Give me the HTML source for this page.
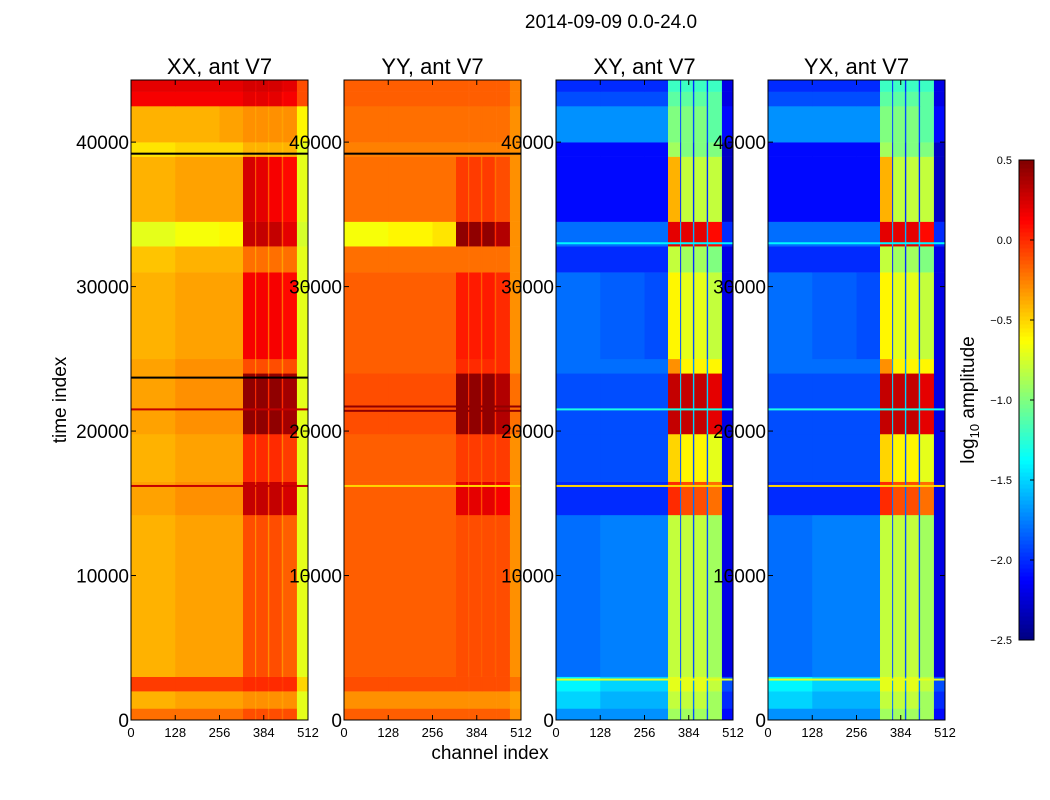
<!DOCTYPE html>
<html><head><meta charset="utf-8">
<style>
body{margin:0;background:#fff;}
svg{display:block;font-family:"Liberation Sans","DejaVu Sans",sans-serif;}
</style></head>
<body>
<svg id="chart" width="1050" height="800" viewBox="0 0 1050 800" xmlns="http://www.w3.org/2000/svg">
<rect width="1050" height="800" fill="#fff"/>
<text x="611" y="28" font-size="19" text-anchor="middle">2014-09-09 0.0-24.0</text>
<text transform="translate(66,400) rotate(-90)" font-size="19" text-anchor="middle">time index</text>
<text x="490" y="759" font-size="19" text-anchor="middle">channel index</text>
<text transform="translate(974,400) rotate(-90)" font-size="19" text-anchor="middle">log<tspan font-size="13" dy="5">10</tspan><tspan dy="-5"> amplitude</tspan></text>
<g id="panels"></g>
<g id="cbar"></g>
</svg>
<script>
const timeEdges=[0,800,2000,3000,14200,16500,19800,24000,25000,31000,32800,34500,39000,40000,42500,43500,44300];
const chanEdges=[0,128,256,324,359,362,396,400,436,440,480,512];
const panelTitles=["XX, ant V7","YY, ant V7","XY, ant V7","YX, ant V7"];
const xTicks=[0,128,256,384,512];
const yTicks=[0,10000,20000,30000,40000];
const cbarTicks=[0.5,0.0,-0.5,-1.0,-1.5,-2.0,-2.5];
const valsXX=[
[-0.2,-0.2,-0.2,-0.1,-0.2,-0.1,-0.2,-0.1,-0.2,-0.1,-0.7],
[-0.4,-0.35,-0.35,-0.3,-0.35,-0.3,-0.35,-0.3,-0.35,-0.3,-0.7],
[-0.05,-0.05,-0.05,0.0,-0.05,0.0,-0.05,0.0,-0.05,0.0,-0.5],
[-0.4,-0.35,-0.35,-0.1,-0.3,-0.1,-0.3,-0.1,-0.3,-0.15,-0.7],
[-0.35,-0.3,-0.3,0.3,-0.1,0.3,-0.1,0.3,-0.1,0.25,-0.7],
[-0.4,-0.35,-0.35,0.0,-0.25,0.0,-0.25,0.0,-0.25,-0.05,-0.7],
[-0.35,-0.3,-0.3,0.45,0.0,0.45,0.0,0.45,0.0,0.4,-0.7],
[-0.35,-0.3,-0.3,-0.1,-0.3,-0.1,-0.3,-0.1,-0.3,-0.1,-0.7],
[-0.4,-0.35,-0.35,0.15,-0.2,0.15,-0.2,0.15,-0.2,0.1,-0.7],
[-0.45,-0.4,-0.4,-0.2,-0.35,-0.2,-0.35,-0.2,-0.35,-0.2,-0.7],
[-0.7,-0.65,-0.6,0.3,-0.1,0.3,-0.1,0.3,-0.1,0.2,-0.75],
[-0.4,-0.35,-0.35,0.25,-0.15,0.2,-0.15,0.15,-0.15,0.1,-0.7],
[-0.55,-0.5,-0.5,-0.4,-0.45,-0.4,-0.45,-0.4,-0.45,-0.4,-0.7],
[-0.4,-0.4,-0.35,-0.3,-0.35,-0.3,-0.35,-0.3,-0.35,-0.3,-0.6],
[0.15,0.15,0.15,0.2,0.1,0.2,0.1,0.2,0.1,0.15,-0.1],
[0.2,0.2,0.2,0.25,0.2,0.25,0.2,0.25,0.2,0.2,-0.1]];
const valsYY=[
[-0.15,-0.15,-0.15,-0.15,-0.15,-0.15,-0.15,-0.15,-0.15,-0.15,-0.3],
[-0.3,-0.3,-0.3,-0.3,-0.3,-0.3,-0.3,-0.3,-0.3,-0.3,-0.35],
[-0.1,-0.1,-0.1,-0.1,-0.1,-0.1,-0.1,-0.1,-0.1,-0.1,-0.2],
[-0.15,-0.15,-0.15,-0.1,-0.15,-0.1,-0.15,-0.1,-0.15,-0.1,-0.3],
[-0.15,-0.15,-0.15,0.2,-0.1,0.2,-0.1,0.2,-0.1,0.15,-0.3],
[-0.15,-0.15,-0.15,-0.05,-0.15,-0.05,-0.15,-0.05,-0.15,-0.05,-0.3],
[-0.1,-0.1,-0.1,0.45,0.0,0.45,0.0,0.45,0.0,0.35,-0.2],
[-0.15,-0.15,-0.15,0.0,-0.15,0.0,-0.15,0.0,-0.15,0.0,-0.3],
[-0.15,-0.15,-0.15,0.05,-0.15,0.05,-0.15,0.05,-0.15,0.0,-0.3],
[-0.2,-0.2,-0.2,-0.2,-0.2,-0.2,-0.2,-0.2,-0.2,-0.2,-0.3],
[-0.65,-0.6,-0.55,0.45,0.0,0.45,0.0,0.45,0.0,0.35,-0.3],
[-0.2,-0.2,-0.2,-0.05,-0.2,-0.05,-0.2,-0.05,-0.2,-0.1,-0.3],
[-0.25,-0.25,-0.25,-0.25,-0.25,-0.25,-0.25,-0.25,-0.25,-0.25,-0.3],
[-0.2,-0.2,-0.2,-0.2,-0.2,-0.2,-0.2,-0.2,-0.2,-0.2,-0.3],
[-0.15,-0.15,-0.15,-0.15,-0.15,-0.15,-0.15,-0.15,-0.15,-0.15,-0.25],
[-0.15,-0.15,-0.15,-0.15,-0.15,-0.15,-0.15,-0.15,-0.15,-0.15,-0.25]];
const valsXY=[
[-1.7,-1.7,-1.7,-0.9,-1.9,-0.9,-1.9,-0.9,-1.9,-0.9,-2.1],
[-1.5,-1.6,-1.6,-0.8,-1.8,-0.8,-1.8,-0.8,-1.8,-0.9,-2.0],
[-1.4,-1.5,-1.5,-0.7,-1.7,-0.7,-1.7,-0.7,-1.7,-0.8,-1.9],
[-1.8,-1.75,-1.75,-0.8,-1.9,-0.8,-1.9,-0.8,-1.9,-0.9,-2.2],
[-2.0,-2.0,-2.0,0.0,-1.8,-0.1,-1.8,-0.1,-1.8,-0.2,-2.2],
[-1.9,-1.9,-1.9,-0.5,-1.9,-0.6,-1.9,-0.6,-1.9,-0.7,-2.2],
[-1.9,-1.9,-1.9,0.3,-1.5,0.3,-1.5,0.3,-1.5,0.2,-2.2],
[-1.8,-1.8,-1.8,-0.3,-1.7,-0.6,-1.7,-0.6,-1.7,-0.6,-2.2],
[-1.8,-1.85,-1.9,-0.6,-1.9,-0.7,-1.9,-0.7,-1.9,-0.8,-2.2],
[-2.0,-2.0,-2.0,-0.8,-2.0,-0.9,-2.0,-0.9,-2.0,-1.0,-2.2],
[-1.8,-1.8,-1.8,0.2,-1.6,0.2,-1.6,0.2,-1.6,0.1,-2.0],
[-2.1,-2.1,-2.1,-0.4,-2.0,-0.8,-2.0,-0.8,-2.0,-0.8,-2.3],
[-2.1,-2.1,-2.1,-0.9,-2.0,-1.0,-2.0,-1.0,-2.0,-1.0,-2.3],
[-1.7,-1.7,-1.7,-1.0,-1.9,-1.0,-1.9,-1.0,-1.9,-1.1,-2.1],
[-1.9,-1.9,-1.9,-1.1,-1.9,-1.1,-1.9,-1.1,-1.9,-1.1,-2.2],
[-2.0,-2.0,-2.0,-1.2,-2.0,-1.2,-2.0,-1.2,-2.0,-1.2,-2.2]];
const valsYX=[
[-1.7,-1.7,-1.7,-0.9,-1.9,-0.9,-1.9,-0.9,-1.9,-0.9,-2.1],
[-1.5,-1.6,-1.6,-0.8,-1.8,-0.8,-1.8,-0.8,-1.8,-0.9,-2.0],
[-1.4,-1.5,-1.5,-0.7,-1.7,-0.7,-1.7,-0.7,-1.7,-0.8,-1.9],
[-1.8,-1.75,-1.75,-0.8,-1.9,-0.8,-1.9,-0.8,-1.9,-0.9,-2.2],
[-2.0,-2.0,-2.0,0.0,-1.8,-0.1,-1.8,-0.1,-1.8,-0.2,-2.2],
[-1.9,-1.9,-1.9,-0.5,-1.9,-0.6,-1.9,-0.6,-1.9,-0.7,-2.2],
[-1.9,-1.9,-1.9,0.3,-1.5,0.3,-1.5,0.3,-1.5,0.2,-2.2],
[-1.8,-1.8,-1.8,-0.3,-1.7,-0.6,-1.7,-0.6,-1.7,-0.6,-2.2],
[-1.8,-1.85,-1.9,-0.6,-1.9,-0.7,-1.9,-0.7,-1.9,-0.8,-2.2],
[-2.0,-2.0,-2.0,-0.8,-2.0,-0.9,-2.0,-0.9,-2.0,-1.0,-2.2],
[-1.8,-1.8,-1.8,0.2,-1.6,0.2,-1.6,0.2,-1.6,0.1,-2.0],
[-2.1,-2.1,-2.1,-0.4,-2.0,-0.8,-2.0,-0.8,-2.0,-0.8,-2.3],
[-2.1,-2.1,-2.1,-0.9,-2.0,-1.0,-2.0,-1.0,-2.0,-1.0,-2.3],
[-1.7,-1.7,-1.7,-1.0,-1.9,-1.0,-1.9,-1.0,-1.9,-1.1,-2.1],
[-1.9,-1.9,-1.9,-1.1,-1.9,-1.1,-1.9,-1.1,-1.9,-1.1,-2.2],
[-2.0,-2.0,-2.0,-1.2,-2.0,-1.2,-2.0,-1.2,-2.0,-1.2,-2.2]];
const lineTimesXX=[39200,23700,21500,16200];
const lineValsXX=[null,null,0.3,0.3];
const lineTimesYY=[39200,21700,21400,16200];
const lineValsYY=[null,0.45,0.45,-0.5];
const lineTimesXY=[21500,16200,2800,33000];
const lineValsXY=[-1.3,-0.5,-0.7,-1.4];
const lineTimesYX=[21500,16200,2800,33000];
const lineValsYX=[-1.3,-0.5,-0.7,-1.4];

const allVals=[valsXX,valsYY,valsXY,valsYX];
const allLineT=[lineTimesXX,lineTimesYY,lineTimesXY,lineTimesYX];
const allLineV=[lineValsXX,lineValsYY,lineValsXY,lineValsYX];
const panelLeft=[131,344,556,768], panelW=177, plotTop=80, plotBottom=720, tMax=44300;
const vmin=-2.5,vmax=0.5;
const NS="http://www.w3.org/2000/svg";
function yScale(t){return plotBottom-(t/tMax)*(plotBottom-plotTop);}
function xScale(p,c){return panelLeft[p]+(c/512)*panelW;}
function clip(a){return Math.max(0,Math.min(1,a));}
function jet(v){const n=clip((v-vmin)/(vmax-vmin));
 const r=clip(1.5-Math.abs(4*n-3)),g=clip(1.5-Math.abs(4*n-2)),b=clip(1.5-Math.abs(4*n-1));
 return `rgb(${Math.round(r*255)},${Math.round(g*255)},${Math.round(b*255)})`;}
function mk(tag,attrs,parent){const e=document.createElementNS(NS,tag);for(const k in attrs)e.setAttribute(k,attrs[k]);parent.appendChild(e);return e;}
const root=document.getElementById('panels');
for(let p=0;p<4;p++){
 const g=mk('g',{},root);
 
 
 const vals=allVals[p];
 for(let r=0;r<timeEdges.length-1;r++){
  for(let c=0;c<chanEdges.length-1;c++){
   const x0=xScale(p,chanEdges[c]),x1=xScale(p,chanEdges[c+1]);
   const y0=yScale(timeEdges[r+1]),y1=yScale(timeEdges[r]);
   const cell=mk('rect',{x:x0,y:y0,width:x1-x0+0.3,height:y1-y0+0.3,fill:jet(vals[r][c])},g);
   
   
  }
 }
 const lt=allLineT[p],lv=allLineV[p];
 for(let i=0;i<lt.length;i++){
  const y=yScale(lt[i]);
  const ln=mk('rect',{x:xScale(p,0),y:y-1,width:panelW,height:2,fill:lv[i]===null?'#000':jet(lv[i])},g);
  
  
 }
 const fr=mk('rect',{x:xScale(p,0),y:plotTop,width:panelW,height:plotBottom-plotTop,fill:'none',stroke:'#000','stroke-width':1},g);
 
 
 const tt=mk('text',{x:xScale(p,256),y:74,'font-size':22,'text-anchor':'middle'},g);
 tt.textContent=panelTitles[p];
 
 
 for(const v of xTicks){
  const x=xScale(p,v);
  mk('line',{x1:x,x2:x,y1:plotBottom,y2:plotBottom-5,stroke:'#000'},g);
  mk('line',{x1:x,x2:x,y1:plotTop,y2:plotTop+5,stroke:'#000'},g);
  const t=mk('text',{x:x,y:737,'font-size':13,'text-anchor':'middle'},g);
  t.textContent=v;
  
  
 }
 for(const v of yTicks){
  const y=yScale(v);
  mk('line',{x1:xScale(p,0),x2:xScale(p,0)+5,y1:y,y2:y,stroke:'#000'},g);
  mk('line',{x1:xScale(p,512),x2:xScale(p,512)-5,y1:y,y2:y,stroke:'#000'},g);
  const t=mk('text',{x:xScale(p,0)-2,y:y+7,'font-size':19,'text-anchor':'end'},g);
  t.textContent=v;
  
  
 }
}
const cb=document.getElementById('cbar');
const cbTop=160,cbBot=640,cbX=1019,cbW=15,steps=120;
for(let i=0;i<steps;i++){
 const v=vmin+(i+0.5)*(vmax-vmin)/steps;
 const y=cbBot-(i+1)*(cbBot-cbTop)/steps;
 mk('rect',{x:cbX,y:y,width:cbW,height:(cbBot-cbTop)/steps+0.5,fill:jet(v)},cb);
}
mk('rect',{x:cbX,y:cbTop,width:cbW,height:cbBot-cbTop,fill:'none',stroke:'#000'},cb);
for(const v of cbarTicks){
 const y=cbBot-(v-vmin)/(vmax-vmin)*(cbBot-cbTop);
 mk('line',{x1:cbX+cbW-4,x2:cbX+cbW,y1:y,y2:y,stroke:'#000'},cb);
 const t=mk('text',{x:1012,y:y+4,'font-size':11,'text-anchor':'end'},cb);
 t.textContent=v.toFixed(1).replace('-','\u2212');
 
 
}
</script>
</body></html>
